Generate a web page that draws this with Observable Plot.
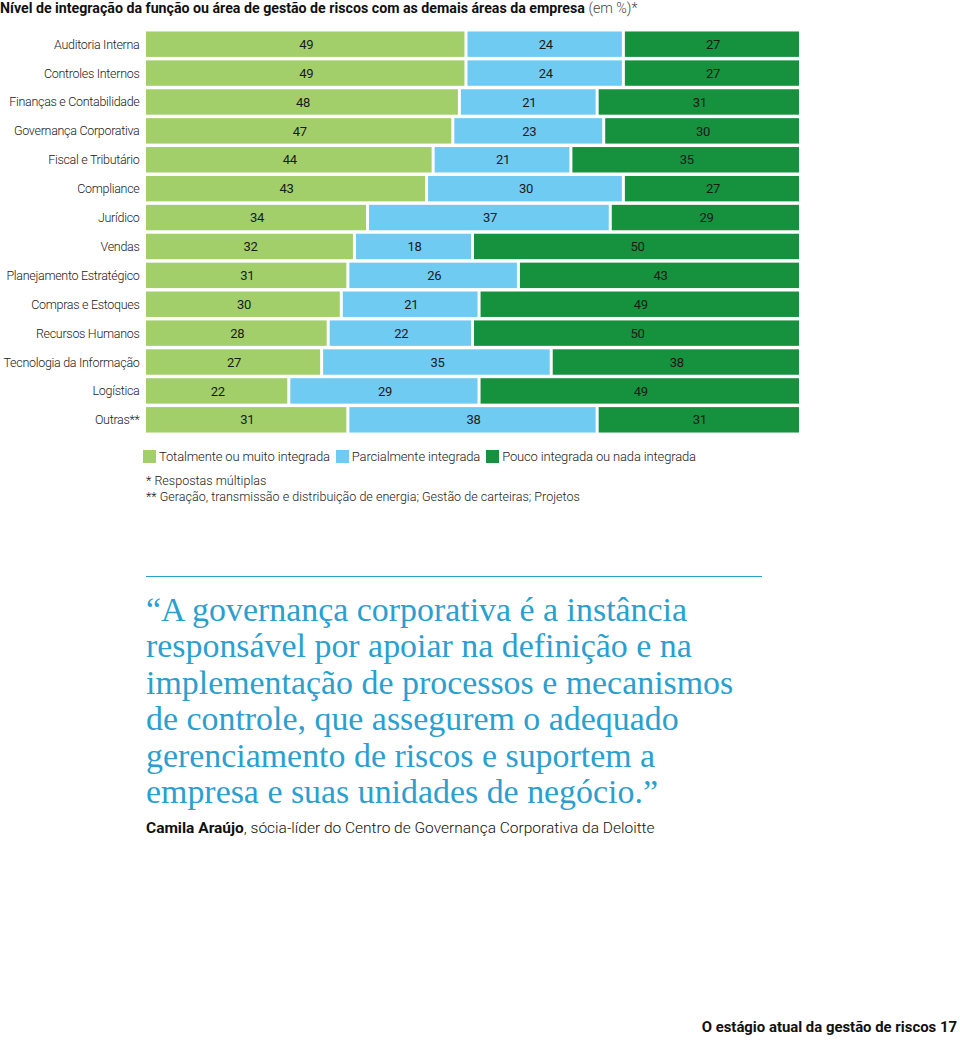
<!DOCTYPE html>
<html><head><meta charset="utf-8">
<script src="https://cdn.jsdelivr.net/npm/d3@7"></script>
<script src="https://cdn.jsdelivr.net/npm/@observablehq/plot@0.6"></script>
<style>
body{margin:0;width:960px;height:1040px;position:relative;background:#fff;font-family:Roboto,sans-serif;color:#1a1a1a;overflow:hidden}
.abs{position:absolute;white-space:nowrap}
#title{left:0;top:0px;font-size:14.2px;font-weight:700;color:#111}
#title span{font-weight:300;color:#444}
#chart{left:0;top:28px}
#legend{left:143px;top:449px;font-size:13px;font-weight:300;letter-spacing:-0.15px;color:#222;display:flex;align-items:center}
#legend .sw{display:inline-block;width:13px;height:13px;margin-right:3px}
#legend .it{display:flex;align-items:center;margin-right:6px}
.note{left:146px;font-size:12.55px;font-weight:300;color:#222}
#rule{left:146px;top:576px;width:616px;height:1px;background:#2a9fd0}
#quote{left:146px;top:592px;font-family:"Liberation Serif",serif;font-size:33.9px;line-height:36.4px;color:#2a9fd0;white-space:normal;width:720px}
#attr{left:146px;top:819px;font-size:15.5px;font-weight:300;color:#111}
#attr b{font-weight:700}
#footer{right:3px;top:1018px;font-size:14.9px;font-weight:700;color:#111}
</style></head><body>
<div class="abs" id="title">Nível de integração da função ou área de gestão de riscos com as demais áreas da empresa <span>(em %)*</span></div>
<div class="abs" id="chart"></div>
<div class="abs" id="legend"></div>
<div class="abs note" style="top:473px">* Respostas múltiplas</div>
<div class="abs note" style="top:489px">** Geração, transmissão e distribuição de energia; Gestão de carteiras; Projetos</div>
<div class="abs" id="rule"></div>
<div class="abs" id="quote">“A governança corporativa é a instância<br>responsável por apoiar na definição e na<br>implementação de processos e mecanismos<br>de controle, que assegurem o adequado<br>gerenciamento de riscos e suportem a<br>empresa e suas unidades de negócio.”</div>
<div class="abs" id="attr"><b>Camila Araújo</b>, sócia-líder do Centro de Governança Corporativa da Deloitte</div>
<div class="abs" id="footer">O estágio atual da gestão de riscos 17</div>
<script>
const categories = ["Auditoria Interna","Controles Internos","Finanças e Contabilidade","Governança Corporativa","Fiscal e Tributário","Compliance","Jurídico","Vendas","Planejamento Estratégico","Compras e Estoques","Recursos Humanos","Tecnologia da Informação","Logística","Outras**"];
const series = ["Totalmente ou muito integrada","Parcialmente integrada","Pouco integrada ou nada integrada"];
const totalmente = [49,49,48,47,44,43,34,32,31,30,28,27,22,31];
const parcialmente = [24,24,21,23,21,30,37,18,26,21,22,35,29,38];
const pouco = [27,27,31,30,35,27,29,50,43,49,50,38,49,31];
const colors = ["#a2cf6a","#70cbf3","#16913e"];

const values = [totalmente, parcialmente, pouco];
const data = [];
categories.forEach((c, i) => series.forEach((s, j) => data.push({cat: c, series: s, value: values[j][i]})));

const chart = Plot.plot({
  width: 960, height: 408,
  marginLeft: 146, marginRight: 158, marginTop: 0, marginBottom: 0,
  style: {fontFamily: "Roboto, sans-serif", fontSize: "12.5px", fontWeight: 300, color: "#222", letterSpacing: "-0.3px"},
  x: {domain: [0, 100], axis: null},
  y: {domain: categories, padding: 0.12, round: false, label: null, tickSize: 0, tickPadding: 7},
  color: {domain: series, range: colors},
  marks: [
    Plot.barX(data, Plot.stackX({x: "value", y: "cat", fill: "series", z: "series", insetRight: 3})),
    Plot.textX(data, Plot.stackX({x: "value", y: "cat", z: "series", text: d => String(d.value), fill: "#1a1a1a", fontSize: 13, fontWeight: 400, dx: -1}))
  ]
});
document.getElementById("chart").appendChild(chart);

const lg = document.getElementById("legend");
series.forEach((s, j) => {
  const it = document.createElement("div"); it.className = "it";
  it.innerHTML = `<span class="sw" style="background:${colors[j]}"></span>${s}`;
  lg.appendChild(it);
});
</script>
</body></html>
